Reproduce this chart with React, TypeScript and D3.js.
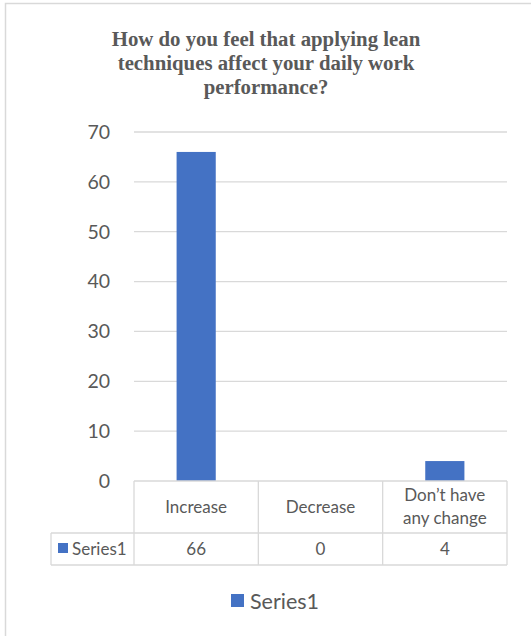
import React from "react";
import * as d3 from "d3";

const titleLines = ["How do you feel that applying lean", "techniques affect your daily work", "performance?"];
const categories = ["Increase", "Decrease", "Don\u2019t have any change"];
const categoryLines = [["Increase"], ["Decrease"], ["Don\u2019t have", "any change"]];
const seriesName = "Series1";
const values = [66, 0, 4];
const yTicks = [0, 10, 20, 30, 40, 50, 60, 70];

const W = 531;
const H = 636;
const BLUE = "#4472C4";
const GRID = "#d9d9d9";
const TEXT = "#595959";
const SANS = "Lato, 'Noto Sans', sans-serif";

export default function App() {
  const y = d3.scaleLinear().domain([0, 70]).range([481, 132]);
  const x = d3.scaleBand<string>().domain(categories).range([134, 507]).paddingInner(0);
  const bw = x.bandwidth();
  const barW = bw * 0.315;
  const tableTop = 481;
  const rowDiv = 533;
  const tableBottom = 565;
  const tableLeft = 51;
  const x0 = 134;
  const x1 = 507;

  return (
    <svg width={W} height={H} style={{ position: "absolute", left: 0, top: 0, background: "#fff" }}>
      <rect x={5.5} y={3.5} width={W + 10} height={H + 10} fill="#fff" stroke={GRID} strokeWidth={1.5} />
      {titleLines.map((t, i) => (
        <text key={i} x={266} y={46 + i * 24} textAnchor="middle" fontFamily="'Liberation Serif', 'Times New Roman', serif" fontWeight="bold" fontSize={20.8} fill={TEXT}>
          {t}
        </text>
      ))}
      {yTicks.map((t) => (
        <g key={t}>
          {t > 0 && <line x1={x0} x2={x1} y1={y(t)} y2={y(t)} stroke={GRID} strokeWidth={1.3} />}
          <text x={110} y={y(t)} dy="0.35em" textAnchor="end" fontFamily={SANS} fontSize={19.5} fill={TEXT}>
            {t}
          </text>
        </g>
      ))}
      {categories.map((c, i) => (
        <rect key={c} x={(x(c) as number) + (bw - barW) / 2} y={y(values[i])} width={barW} height={y(0) - y(values[i])} fill={BLUE} />
      ))}
      {/* data table */}
      <g stroke={GRID} strokeWidth={1.3} fill="none">
        <line x1={x0} x2={x1} y1={tableTop} y2={tableTop} />
        <line x1={tableLeft} x2={x1} y1={rowDiv} y2={rowDiv} />
        <line x1={tableLeft} x2={x1} y1={tableBottom} y2={tableBottom} />
        <line x1={tableLeft} x2={tableLeft} y1={rowDiv} y2={tableBottom} />
        {categories.map((c) => (
          <line key={c} x1={x(c) as number} x2={x(c) as number} y1={tableTop} y2={tableBottom} />
        ))}
        <line x1={x1} x2={x1} y1={tableTop} y2={tableBottom} />
      </g>
      {categories.map((c, i) => {
        const cx = (x(c) as number) + bw / 2;
        const lines = categoryLines[i];
        const mid = (tableTop + rowDiv) / 2;
        return (
          <g key={c}>
            {lines.map((l, j) => (
              <text key={j} x={cx} y={mid + (j - (lines.length - 1) / 2) * 23} dy="0.35em" textAnchor="middle" fontFamily={SANS} fontSize={17} fill={TEXT}>
                {l}
              </text>
            ))}
            <text x={cx} y={(rowDiv + tableBottom) / 2} dy="0.35em" textAnchor="middle" fontFamily={SANS} fontSize={17} fill={TEXT}>
              {values[i]}
            </text>
          </g>
        );
      })}
      <rect x={58} y={543} width={10} height={10} fill={BLUE} />
      <text x={72} y={(rowDiv + tableBottom) / 2} dy="0.35em" fontFamily={SANS} fontSize={17} fill={TEXT}>
        {seriesName}
      </text>
      {/* legend */}
      <rect x={231} y={594} width={13} height={13} fill={BLUE} />
      <text x={250} y={601} dy="0.35em" fontFamily={SANS} fontSize={21.5} fill={TEXT}>
        {seriesName}
      </text>
    </svg>
  );
}
